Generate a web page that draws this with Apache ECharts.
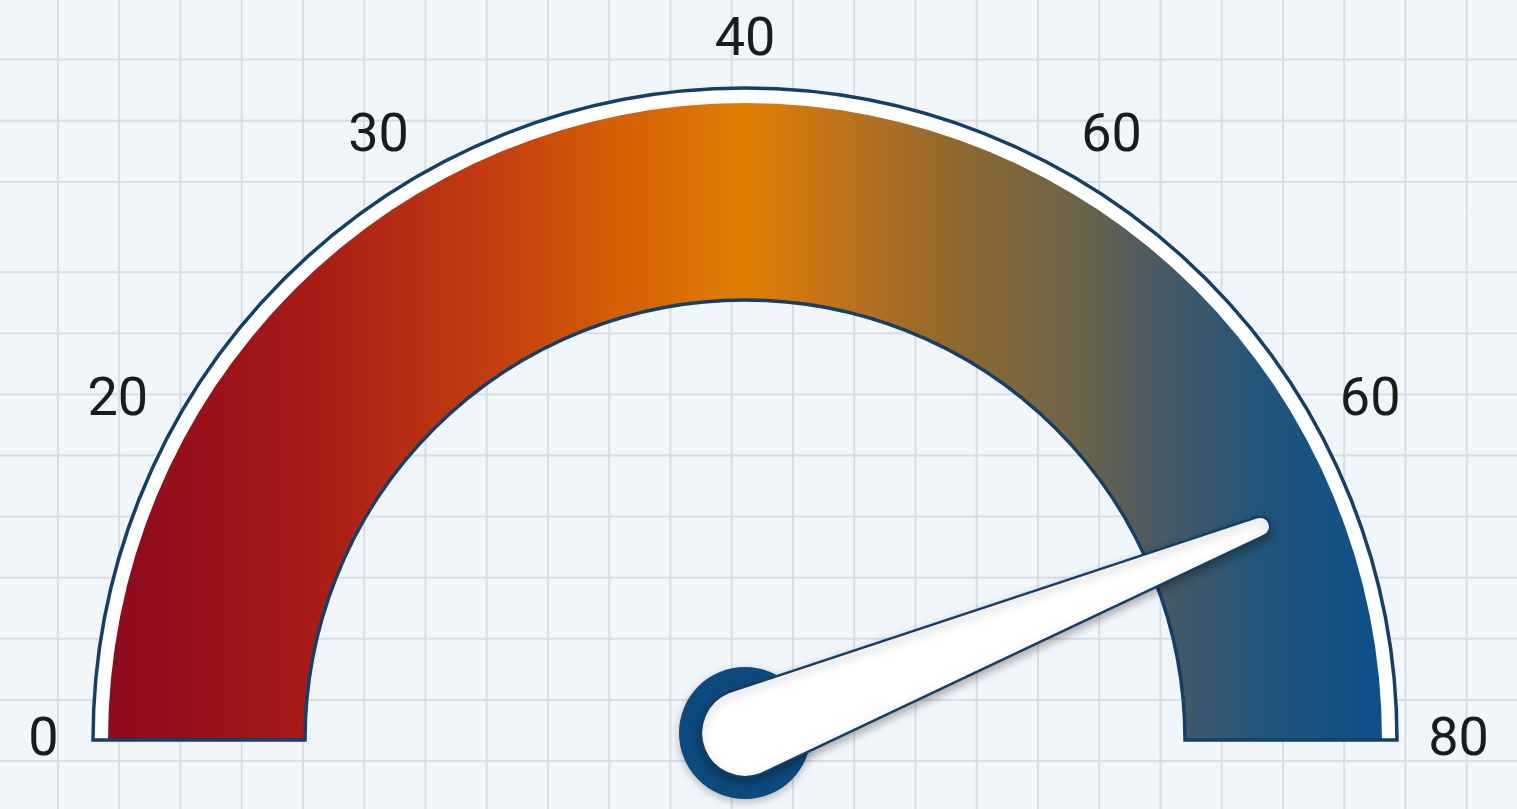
<!DOCTYPE html>
<html>
<head>
<meta charset="utf-8">
<script src="https://cdn.jsdelivr.net/npm/echarts@6/dist/echarts.min.js"></script>
<style>
  html, body { margin: 0; padding: 0; }
  body { width: 1517px; height: 809px; background: #f1f6fa; position: relative; overflow: hidden; }
  .bg { position: absolute; left: 0; width: 1517px; }
  #gridV {
    top: 0; height: 809px;
    background-image: linear-gradient(to right, #d7dde4 0, #d7dde4 2px, transparent 2px);
    background-size: 61.26px 100%;
    background-position: -4.3px 0;
  }
  #gridTop {
    top: 0; height: 212px;
    background-image: linear-gradient(to bottom, #d7dde4 0, #d7dde4 2px, transparent 2px);
    background-size: 100% 61.2px;
    background-position: 0 -2.7px;
  }
  #gridBottom {
    top: 212px; height: 597px;
    background-image: linear-gradient(to bottom, #d7dde4 0, #d7dde4 2px, transparent 2px);
    background-size: 100% 61.1px;
    background-position: 0 -1.9px;
  }
  #main { position: absolute; left: 0; top: 0; width: 1517px; height: 809px; }
</style>
</head>
<body>
<div class="bg" id="gridV"></div>
<div class="bg" id="gridTop"></div>
<div class="bg" id="gridBottom"></div>
<div id="main"></div>
<script>
  // scale
  var AXIS_MIN = 0;
  var AXIS_MAX = 80;
  // labels printed around the dial (as they appear)
  var TICK_LABELS = ['0', '20', '30', '40', '60', '60', '80'];
  // needle reading
  var NEEDLE_VALUE = [70.3];

  var CX = 745, CY = 740, HUB_CY = 733;

  var bandGradient = new echarts.graphic.LinearGradient(0, 0, 1, 0, [
    { offset: 0, color: '#8c0a1e' },
    { offset: 0.15, color: '#a51a17' },
    { offset: 0.31, color: '#c4400f' },
    { offset: 0.39, color: '#d25c07' },
    { offset: 0.5, color: '#e07e00' },
    { offset: 0.59, color: '#b87020' },
    { offset: 0.67, color: '#8e6830' },
    { offset: 0.76, color: '#6c6448' },
    { offset: 0.82, color: '#4c5a62' },
    { offset: 0.9, color: '#24567a' },
    { offset: 1, color: '#0c4f8a' }
  ]);

  // small per-label nudges (text padding) so the numbers sit where the picture has them
  var labelPads = [
    [2, 0, 0, 32],
    [56, 0, 0, 8],
    [66, 0, 0, 0],
    [69, 0, 0, 0],
    [66, 0, 0, 0],
    [56, 10, 0, 0],
    [2, 20, 0, 0]
  ];
  var labelRich = {};
  labelPads.forEach(function (p, i) {
    labelRich['l' + i] = {
      width: 1,
      height: 1,
      lineHeight: 1,
      align: 'center',
      verticalAlign: 'middle',
      padding: p,
      color: '#1b1b1b',
      fontSize: 54,
      fontFamily: 'Roboto'
    };
  });

  function gauge(opts) {
    return Object.assign({
      type: 'gauge',
      startAngle: 180,
      endAngle: 0,
      min: AXIS_MIN,
      max: AXIS_MAX,
      splitNumber: TICK_LABELS.length - 1,
      center: [CX, CY],
      radius: 652,
      silent: true,
      axisLine: { show: false },
      axisTick: { show: false },
      splitLine: { show: false, length: 0, distance: 0 },
      axisLabel: { show: false },
      pointer: { show: false },
      anchor: { show: false },
      title: { show: false },
      detail: { show: false }
    }, opts);
  }

  var myChart = echarts.init(document.getElementById('main'));

  myChart.setOption({
    animation: false,
    backgroundColor: 'transparent',
    series: [
      // white frame under the coloured band
      gauge({
        radius: 652,
        progress: { show: true, width: 212, itemStyle: { color: '#ffffff' } },
        data: [{ value: AXIS_MAX }]
      }),
      // coloured band
      gauge({
        radius: 637,
        progress: { show: true, width: 197, itemStyle: { color: bandGradient } },
        data: [{ value: AXIS_MAX }]
      }),
      // outline + labels
      gauge({
        radius: 652,
        progress: {
          show: true,
          width: 212,
          itemStyle: { color: 'rgba(0,0,0,0)', borderColor: '#153f66', borderWidth: 3.5 }
        },
        axisLabel: {
          show: true,
          distance: -82,
          formatter: function (v) {
            var i = Math.round((v - AXIS_MIN) / (AXIS_MAX - AXIS_MIN) * (TICK_LABELS.length - 1));
            return '{l' + i + '|' + TICK_LABELS[i] + '}';
          },
          rich: labelRich
        },
        data: [{ value: AXIS_MAX }]
      }),
      // hub ring (under the needle)
      gauge({
        center: [CX, HUB_CY],
        anchor: {
          show: true,
          showAbove: false,
          size: 132,
          itemStyle: { color: '#0c4a7d', shadowBlur: 8, shadowColor: 'rgba(0,0,0,0.25)', shadowOffsetY: 3 }
        },
        data: [{ value: NEEDLE_VALUE[0] }]
      }),
      // needle, its round base is the white hub centre
      gauge({
        center: [CX, HUB_CY],
        pointer: {
          show: true,
          icon: 'path://M34,10 A10,10 0 0 1 54,10 L88,565 A44,44 0 0 1 0,565 Z',
          length: 609,
          width: 88,
          offsetCenter: [0, 44],
          itemStyle: {
            color: '#ffffff',
            borderColor: '#163d63',
            borderWidth: 2.5,
            shadowBlur: 10,
            shadowColor: 'rgba(0,0,0,0.3)',
            shadowOffsetY: 4
          }
        },
        data: [{ value: NEEDLE_VALUE[0] }]
      })
    ]
  });
</script>
</body>
</html>
